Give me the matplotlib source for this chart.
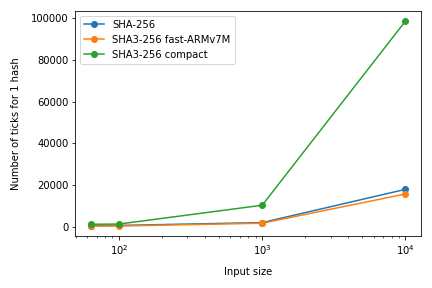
import matplotlib
matplotlib.use("Agg")
import matplotlib.pyplot as plt

sizes = [64, 100, 1000, 10000]
sha256 = [700, 750, 2100, 18000]
sha3_fast = [400, 450, 1800, 15800]
sha3_compact = [1300, 1400, 10400, 98500]

fig, ax = plt.subplots(figsize=(6, 4), dpi=72)
ax.plot(sizes, sha256, marker="o", label="SHA-256")
ax.plot(sizes, sha3_fast, marker="o", label="SHA3-256 fast-ARMv7M")
ax.plot(sizes, sha3_compact, marker="o", label="SHA3-256 compact")
ax.set_xscale("log")
ax.set_xlabel("Input size", labelpad=10)
ax.set_ylabel("Number of ticks for 1 hash", labelpad=10)
ax.legend()
fig.tight_layout()
fig.savefig("out.png")
